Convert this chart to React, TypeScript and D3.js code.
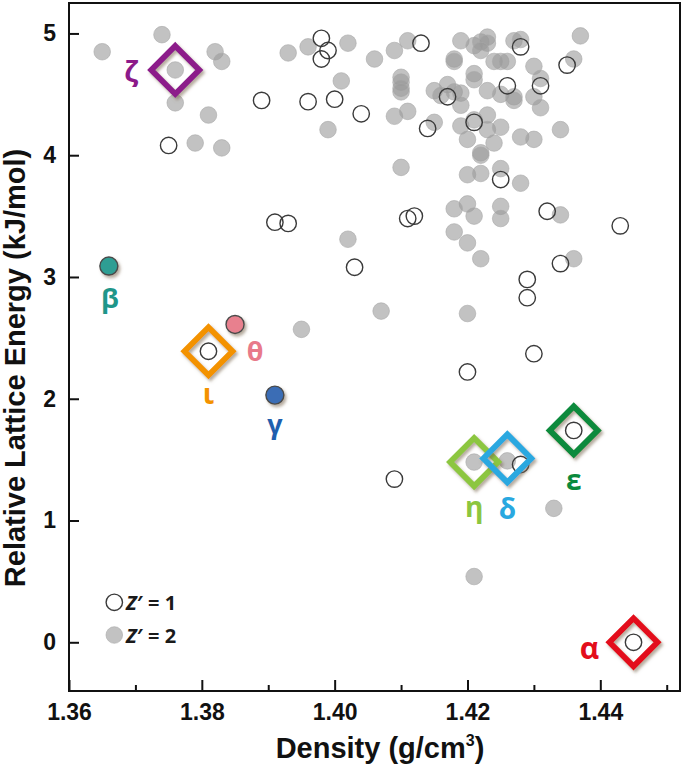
import React, { useEffect, useRef } from 'react';
import * as d3 from 'd3';

const W = 685;
const H = 768;

// Z' = 1 structures (open circles)
const z1Density = [
  1.375, 1.389, 1.398, 1.399, 1.398, 1.396, 1.400, 1.404, 1.413, 1.428,
  1.435, 1.431, 1.426, 1.417, 1.414, 1.421, 1.425, 1.411, 1.412, 1.432,
  1.443, 1.434, 1.429, 1.429, 1.430, 1.420, 1.391, 1.393, 1.403, 1.409,
  1.428, 1.381, 1.436, 1.445,
];
const z1Energy = [
  4.08, 4.45, 4.96, 4.86, 4.79, 4.44, 4.46, 4.34, 4.92, 4.89,
  4.74, 4.57, 4.57, 4.48, 4.22, 4.27, 3.80, 3.48, 3.50, 3.54,
  3.42, 3.11, 2.98, 2.83, 2.37, 2.22, 3.45, 3.44, 3.08, 1.34,
  1.46, 2.39, 1.74, 0.0,
];

// Z' = 2 structures (grey circles)
const z2Density = [
  1.365, 1.374, 1.376, 1.382, 1.383, 1.376, 1.381, 1.379, 1.383, 1.393,
  1.396, 1.402, 1.406, 1.401, 1.399, 1.409, 1.411, 1.419, 1.421, 1.422,
  1.423, 1.423, 1.422, 1.427, 1.428, 1.437, 1.436, 1.418, 1.418, 1.424,
  1.425, 1.426, 1.430, 1.431, 1.430, 1.431, 1.410, 1.410, 1.410, 1.410,
  1.421, 1.421, 1.415, 1.417, 1.416, 1.418, 1.419, 1.419, 1.423, 1.425,
  1.427, 1.427, 1.409, 1.411, 1.415, 1.419, 1.421, 1.423, 1.423, 1.425,
  1.420, 1.424, 1.428, 1.430, 1.434, 1.422, 1.422, 1.410, 1.420, 1.422,
  1.425, 1.428, 1.420, 1.425, 1.418, 1.421, 1.425, 1.434, 1.418, 1.420,
  1.422, 1.436, 1.407, 1.420, 1.402, 1.395, 1.421, 1.426, 1.433, 1.421,
];
const z2Energy = [
  4.85, 4.99, 4.70, 4.85, 4.77, 4.43, 4.33, 4.10, 4.06, 4.84,
  4.89, 4.92, 4.79, 4.61, 4.21, 4.86, 4.94, 4.94, 4.90, 4.93,
  4.97, 4.92, 4.86, 4.94, 4.95, 4.98, 4.79, 4.79, 4.77, 4.77,
  4.77, 4.77, 4.73, 4.63, 4.48, 4.39, 4.64, 4.60, 4.55, 4.52,
  4.67, 4.62, 4.53, 4.58, 4.49, 4.52, 4.51, 4.41, 4.53, 4.50,
  4.48, 4.45, 4.32, 4.36, 4.27, 4.24, 4.29, 4.33, 4.21, 4.23,
  4.13, 4.10, 4.15, 4.13, 4.21, 4.02, 4.00, 3.90, 3.84, 3.85,
  3.89, 3.77, 3.60, 3.58, 3.56, 3.50, 3.48, 3.51, 3.37, 3.28,
  3.15, 3.15, 2.72, 2.70, 3.31, 2.57, 1.48, 1.49, 1.10, 0.54,
];

// Experimental forms shown as coloured filled circles
const dotForms = ['β', 'θ', 'γ'];
const dotDensity = [1.366, 1.385, 1.391];
const dotEnergy = [3.09, 2.61, 2.03];
const dotColors = ['#2f9e93', '#e8808e', '#3a6db5'];
const dotLabelColors = ['#1f968a', '#e87a8a', '#1f5fae'];

// Experimental forms highlighted with diamonds
const diamondForms = ['ζ', 'ι', 'η', 'δ', 'ε', 'α'];
const diamondDensity = [1.376, 1.381, 1.421, 1.426, 1.436, 1.445];
const diamondEnergy = [4.70, 2.39, 1.48, 1.51, 1.74, 0.0];
const diamondColors = ['#8c1a8a', '#f39200', '#8cc63f', '#29a8e0', '#0b8a3c', '#e30e1c'];

// label offsets (pixels) relative to each marker
const dotLabelOffset: [number, number][] = [[1, 31], [20, 26], [0, 28]];
const diamondLabelOffset: [number, number][] = [[-44, 1], [0, 42], [0, 44], [0, 50], [0, 49], [-44, 5]];

const xMajorTicks = [1.36, 1.38, 1.40, 1.42, 1.44];
const xMinorTicks = [1.37, 1.39, 1.41, 1.43, 1.45];
const yTicks = [0, 1, 2, 3, 4, 5];

const M = { left: 69, right: 680, top: 3, bottom: 691 };

export default function App() {
  const gx = useRef<SVGGElement>(null);
  const gy = useRef<SVGGElement>(null);

  const x = d3.scaleLinear().domain([1.36, 1.452]).range([M.left, M.right]);
  const y = d3.scaleLinear().domain([-0.4, 5.25]).range([M.bottom, M.top]);

  useEffect(() => {
    const ax = d3.select(gx.current);
    ax.selectAll('*').remove();
    const major = ax.append('g').call(
      d3.axisBottom(x).tickValues(xMajorTicks).tickSize(-11).tickPadding(13).tickFormat(d3.format('.2f'))
    );
    const minor = ax.append('g').call(
      d3.axisBottom(x).tickValues(xMinorTicks).tickSize(-6).tickFormat(() => '')
    );
    [major, minor].forEach((g) => {
      g.select('.domain').remove();
      g.selectAll('line').attr('stroke', '#111').attr('stroke-width', 2);
    });
    major.selectAll('text')
      .attr('font-family', '"Liberation Sans", Arial, sans-serif')
      .attr('font-weight', 'bold')
      .attr('font-size', 23)
      .attr('fill', '#111');

    const ay = d3.select(gy.current);
    ay.selectAll('*').remove();
    const yg = ay.append('g').call(
      d3.axisLeft(y).tickValues(yTicks).tickSize(-10).tickPadding(13).tickFormat(d3.format('d'))
    );
    yg.select('.domain').remove();
    yg.selectAll('line').attr('stroke', '#111').attr('stroke-width', 2);
    yg.selectAll('text')
      .attr('font-family', '"Liberation Sans", Arial, sans-serif')
      .attr('font-weight', 'bold')
      .attr('font-size', 23)
      .attr('fill', '#111');
  }, []);

  const dRad = 24;
  const diamondPath = (cx: number, cy: number) =>
    `M${cx},${cy - dRad}L${cx + dRad},${cy}L${cx},${cy + dRad}L${cx - dRad},${cy}Z`;

  const greekFont = '"Open Sans", "DejaVu Sans", sans-serif';

  return (
    <svg width={W} height={H} style={{ position: 'absolute', left: 0, top: 0, background: '#fff' }}>
      <defs>
        <filter id="shadow" x="-30%" y="-30%" width="160%" height="160%">
          <feDropShadow dx="2" dy="2.5" stdDeviation="1.6" floodColor="#7a6650" floodOpacity="0.55" />
        </filter>
      </defs>
      <rect x={0} y={0} width={W} height={H} fill="#fff" />

      {/* Z'=2 grey circles */}
      <g>
        {z2Density.map((d, i) => (
          <circle key={'g' + i} cx={x(d)} cy={y(z2Energy[i])} r={8.3}
            fill="#9a9a9a" fillOpacity={0.6} stroke="#a8a8a8" strokeOpacity={0.6} strokeWidth={1} />
        ))}
      </g>
      {/* Z'=1 open circles */}
      <g>
        {z1Density.map((d, i) => (
          <circle key={'o' + i} cx={x(d)} cy={y(z1Energy[i])} r={8.2}
            fill="none" stroke="#3a3a3a" strokeWidth={1.4} />
        ))}
      </g>

      {/* coloured forms */}
      {dotForms.map((f, i) => {
        const cx = x(dotDensity[i]);
        const cy = y(dotEnergy[i]);
        return (
          <g key={'dot' + f}>
            <circle cx={cx} cy={cy} r={9} fill={dotColors[i]} stroke="#4a4a4a" strokeWidth={1.4} filter="url(#shadow)" />
            <text x={cx + dotLabelOffset[i][0]} y={cy + dotLabelOffset[i][1]} textAnchor="middle" dominantBaseline="central"
              fontFamily={greekFont} fontWeight={700} fontSize={27} fill={dotLabelColors[i]}>{f}</text>
          </g>
        );
      })}

      {/* diamonds */}
      {diamondForms.map((f, i) => {
        const cx = x(diamondDensity[i]);
        const cy = y(diamondEnergy[i]);
        return (
          <g key={'dia' + f}>
            <path d={diamondPath(cx, cy)} fill="none" stroke={diamondColors[i]} strokeWidth={5.8}
              strokeLinejoin="miter" filter="url(#shadow)" />
            <text x={cx + diamondLabelOffset[i][0]} y={cy + diamondLabelOffset[i][1]} textAnchor="middle" dominantBaseline="central"
              fontFamily={greekFont} fontWeight={700} fontSize={f === 'α' ? 30 : 28} fill={diamondColors[i]}>{f}</text>
          </g>
        );
      })}

      {/* frame */}
      <rect x={M.left} y={M.top} width={M.right - M.left} height={M.bottom - M.top} fill="none" stroke="#111" strokeWidth={2} />
      <g ref={gx} transform={`translate(0,${M.bottom})`} />
      <g ref={gy} transform={`translate(${M.left},0)`} />

      {/* legend */}
      <g fontFamily={greekFont} fontWeight={700} fontSize={20} fill="#1a1a1a">
        <circle cx={114.3} cy={602.3} r={8.2} fill="none" stroke="#3a3a3a" strokeWidth={1.4} />
        <text x={126} y={609.5}><tspan fontStyle="italic">Z</tspan>′ = 1</text>
        <circle cx={114.3} cy={635} r={8.3} fill="#9a9a9a" fillOpacity={0.6} stroke="#a8a8a8" strokeOpacity={0.6} />
        <text x={126} y={642.5}><tspan fontStyle="italic">Z</tspan>′ = 2</text>
      </g>

      {/* axis titles */}
      <text x={380} y={758} textAnchor="middle" fontFamily='"Liberation Sans", Arial, sans-serif'
        fontWeight="bold" fontSize={29} fill="#111">
        Density (g/cm<tspan dy={-12} fontSize={16}>3</tspan><tspan dy={12}>)</tspan>
      </text>
      <text transform="translate(25,368) rotate(-90)" textAnchor="middle" fontFamily='"Liberation Sans", Arial, sans-serif'
        fontWeight="bold" fontSize={29} fill="#111">
        Relative Lattice Energy (kJ/mol)
      </text>
    </svg>
  );
}
